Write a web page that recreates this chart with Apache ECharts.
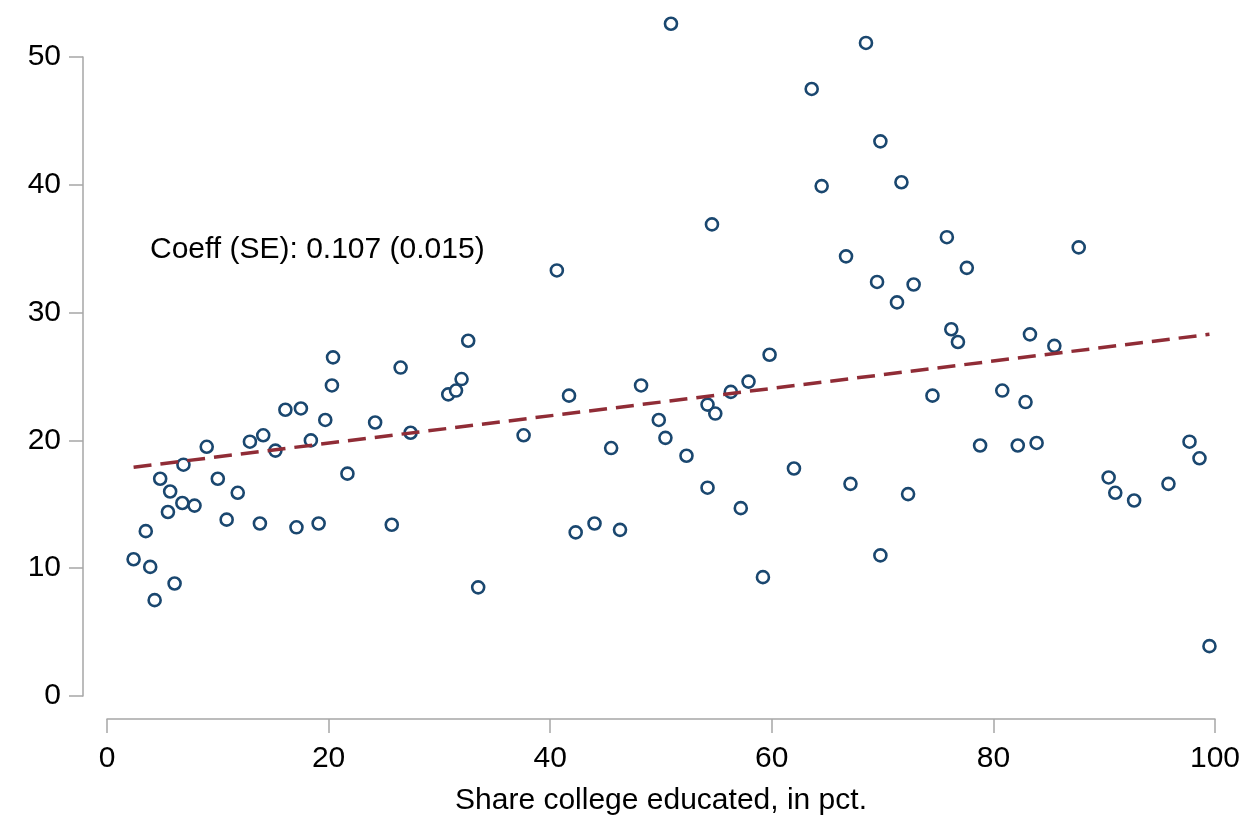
<!DOCTYPE html>
<html>
<head>
<meta charset="utf-8">
<script src="https://cdn.jsdelivr.net/npm/echarts@6/dist/echarts.min.js"></script>
<style>
html,body{margin:0;padding:0;background:#fff;}
#chart{width:1246px;height:818px;}
</style>
</head>
<body>
<div id="chart"></div>
<script>
// Share college educated (x, pct) and outcome (y)
const shareCollege = [2.4,3.5,3.9,4.3,4.8,5.5,5.7,6.1,6.8,6.9,7.9,9.0,10.0,10.8,11.8,12.9,13.8,14.1,15.2,16.1,
  17.1,17.5,18.4,19.1,19.7,20.3,20.4,21.7,24.2,25.7,26.5,27.4,30.8,31.5,32.0,32.6,33.5,37.6,40.6,41.7,
  42.3,44.0,45.5,46.3,48.2,49.8,50.4,50.9,52.3,54.2,54.2,54.6,54.9,56.3,57.2,57.9,59.2,59.8,62.0,63.6,
  64.5,66.7,67.1,68.5,69.5,69.8,69.8,71.3,71.7,72.3,72.8,74.5,75.8,76.2,76.8,77.6,78.8,80.8,82.2,82.9,
  83.3,83.9,85.5,87.7,90.4,91.0,92.7,95.8,97.7,98.6,99.5];
const outcome = [10.7,12.9,10.1,7.5,17.0,14.4,16.0,8.8,15.1,18.1,14.9,19.5,17.0,13.8,15.9,19.9,13.5,20.4,19.2,22.4,
  13.2,22.5,20.0,13.5,21.6,24.3,26.5,17.4,21.4,13.4,25.7,20.6,23.6,23.9,24.8,27.8,8.5,20.4,33.3,23.5,
  12.8,13.5,19.4,13.0,24.3,21.6,20.2,52.6,18.8,22.8,16.3,36.9,22.1,23.8,14.7,24.6,9.3,26.7,17.8,47.5,
  39.9,34.4,16.6,51.1,32.4,43.4,11.0,30.8,40.2,15.8,32.2,23.5,35.9,28.7,27.7,33.5,19.6,23.9,19.6,23.0,
  28.3,19.8,27.4,35.1,17.1,15.9,15.3,16.6,19.9,18.6,3.9];
// Fitted line endpoints
const fitX = [2.4, 99.5];
const fitY = [17.9, 28.3];
const xTicks = [0,20,40,60,80,100];
const yTicks = [0,10,20,30,40,50];
const annotation = 'Coeff (SE): 0.107 (0.015)';
const xTitle = 'Share college educated, in pct.';

const points = shareCollege.map((x,i)=>[x,outcome[i]]);
const fitLine = fitX.map((x,i)=>[x,fitY[i]]);

const FONT = 'Liberation Sans, Arial, sans-serif';
const FS = 30;
const AXIS_COLOR = '#a6a6a6';
const chart = echarts.init(document.getElementById('chart'), null, {renderer:'canvas'});
chart.setOption({
  animation:false,
  backgroundColor:'#ffffff',
  grid:{left:107, right:31, top:57, bottom:122, containLabel:false, outerBoundsMode:'none'},
  xAxis:{
    type:'value', min:xTicks[0], max:xTicks[xTicks.length-1], interval:20,
    offset:23,
    name:xTitle, nameLocation:'middle', nameGap:67,
    nameTextStyle:{fontFamily:FONT, fontSize:FS, color:'#000'},
    axisLine:{show:true, onZero:false, lineStyle:{color:AXIS_COLOR, width:1.5}},
    axisTick:{show:true, inside:false, length:14, lineStyle:{color:AXIS_COLOR, width:1.5}},
    axisLabel:{fontFamily:FONT, fontSize:FS, color:'#000', margin:25},
    splitLine:{show:false}
  },
  yAxis:{
    type:'value', min:yTicks[0], max:yTicks[yTicks.length-1], interval:10,
    offset:24,
    axisLine:{show:true, onZero:false, lineStyle:{color:AXIS_COLOR, width:1.5}},
    axisTick:{show:true, inside:false, length:14, lineStyle:{color:AXIS_COLOR, width:1.5}},
    axisLabel:{fontFamily:FONT, fontSize:FS, color:'#000', margin:22, padding:[3,0,0,0]},
    splitLine:{show:false}
  },
  series:[
    {
      type:'scatter', data:points, clip:false,
      symbol:'circle', symbolSize:12,
      itemStyle:{color:'#ffffff', borderColor:'#1a476f', borderWidth:2.6, opacity:1},
      z:3
    },
    {
      type:'line', data:fitLine, clip:false, symbol:'none',
      lineStyle:{color:'#902c36', width:3.5, type:[18,9]},
      z:4
    }
  ],
  graphic:[{
    type:'text', left:150, top:235,
    style:{text:annotation, font:FS + 'px ' + FONT, fill:'#000'}
  }]
});
</script>
</body>
</html>
